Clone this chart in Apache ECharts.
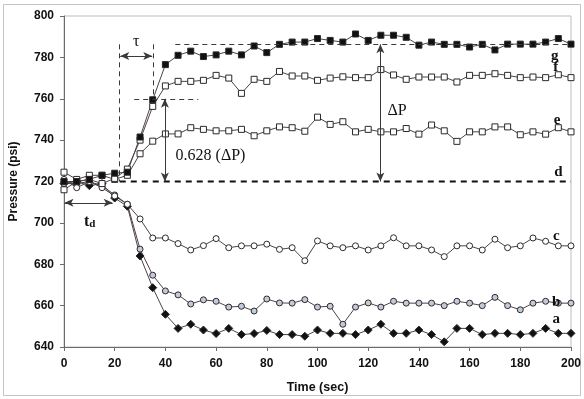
<!DOCTYPE html>
<html><head><meta charset="utf-8">
<script src="https://cdn.jsdelivr.net/npm/echarts@6/dist/echarts.min.js"></script>
<style>html,body{margin:0;padding:0;background:#fff}#c{width:584px;height:399px}</style>
</head><body><div id="c"></div>
<script>
// ---- data ----
const times = [0,5,10,15,20,25,30,35,40,45,50,55,60,65,70,75,80,85,90,95,100,105,110,115,120,125,130,135,140,145,150,155,160,165,170,175,180,185,190,195,200];
const seriesG = [720,720,721,723,724,724.5,741.5,759.5,776.5,781,783,780.4,781.2,783,781.2,785.5,782.3,786.3,787.4,787.4,789.1,788.2,787.4,791.3,788.2,790.7,790.7,789.7,785.9,787.4,786.3,786.3,785,786.3,783.6,786.4,786.4,786.4,787.4,789.1,786.4];
const seriesF = [716,720,721,719,721.5,726,740,756.3,766.2,768.4,768.4,768.9,771.3,770,762.6,769.4,768.4,773.2,771,771,768.9,770,770.6,770.2,770.2,774.1,771.5,769.4,770.5,770.5,770.5,768.1,771.3,771.3,772.1,771.3,770.2,770.5,770.2,771.6,770.2];
const seriesE = [724.5,721,723,723,721,723,733.4,739.5,743,743,746,745.2,744.5,744.5,745.2,742.1,744.5,746.4,746,744.3,751.1,747.6,748.9,744,745.2,744,744,745.6,742.9,747.3,744.5,739.4,744,744,746.4,746.4,742.6,744,742.9,746,744];
const seriesC = [721,717,720,717,713,709,701.9,692.7,692.7,690,686.9,689,692.4,688,688.9,688.9,689.7,687.2,688,681.7,691.3,688.9,688,688.9,686.9,688.9,692.8,688.9,688.9,686.9,683.7,688.9,688.9,686.9,692.1,688,688.9,692.7,691.1,688.9,688.9];
const seriesB = [719,719,720,718,713.5,709,687.3,674.7,667.1,665.2,660.8,662.8,662.1,659.3,659.7,657.4,663.2,661.3,661.2,662.9,659.3,659.7,651,659.3,661.3,659.3,662.1,661.2,661.2,661.2,660,662.1,661.2,660,664,660,658,661.2,662.1,661.2,661.2];
const seriesA = [719,720,718,719,712,708,684,668.7,655.8,649,651,648.2,646.5,649,646,646.5,648,646,646,645.2,648.2,646.6,646.6,646,648.2,651,646.6,646.6,648.2,646,642.5,649,649,646,646.6,646.6,646,646.6,649,646.6,646.6];
const dTimes = [22,200];
const dValues = [720,720];
const xTicks = [0,20,40,60,80,100,120,140,160,180,200];
const yTicks = [640,660,680,700,720,740,760,780,800];

// annotation geometry (data units)
const annoLines = [
  {from:[21.8,786.3], to:[21.8,720], kind:'dash'},
  {from:[35.2,786.3], to:[35.2,760], kind:'dash'},
  {from:[22.2,780.7], to:[34.8,780.7], kind:'arrow'},
  {from:[27.7,760], to:[53,760], kind:'dash'},
  {from:[43.9,786.3], to:[200,786.3], kind:'dash'},
  {from:[39.8,760], to:[39.8,720], kind:'arrow'},
  {from:[124.8,786.3], to:[124.8,720], kind:'arrow'},
  {from:[0.2,709.7], to:[19.2,709.7], kind:'arrow'}
];
const annoTexts = [
  {text:'τ', at:[28.5,787.5], cls:'sym'},
  {text:'0.628 (ΔP)', at:[57.8,732.6], cls:'note'},
  {text:'ΔP', at:[131.4,754.1], cls:'note'},
  {text:'{t|t}{s|d}', at:[10.1,700.6], cls:'td'},
  {text:'g', at:[193.6,780.4], cls:'lab'},
  {text:'f', at:[194,775.4], cls:'lab'},
  {text:'e', at:[194.5,749.6], cls:'lab'},
  {text:'d', at:[195,724.3], cls:'lab'},
  {text:'c', at:[194.2,693.5], cls:'lab'},
  {text:'b', at:[194.2,661.8], cls:'lab'},
  {text:'a', at:[194.2,653.3], cls:'lab'}
];

// ---- chart ----
const chart = echarts.init(document.getElementById('c'), null, {renderer:'canvas'});
const pair = arr => times.map((t,i)=>[t,arr[i]]);
const lineC = '#4e4049';
function mk(name, arr, symbol, size, fill){
  return {name, type:'line', data:pair(arr), symbol, symbolSize:size, showSymbol:true,
    lineStyle:{color:lineC, width:1}, itemStyle:{color:fill, borderColor:'#2a2a2a', borderWidth:1},
    z:3, animation:false, silent:true};
}
const markData = annoLines.map(l => {
  const sym = l.kind==='arrow' ? 'arrow' : 'none';
  return [
    {coord:l.from, symbol:sym, lineStyle:{type: l.kind==='dash'?[5,4]:'solid', color:'#3a3a3a', width:1}},
    {coord:l.to, symbol:sym}
  ];
});
const axisFont = {fontFamily:'Liberation Sans', fontWeight:'bold', fontSize:12, color:'#111'};
chart.setOption({
  animation:false,
  grid:{left:58, right:12, top:16, bottom:45, show:true, borderColor:'#bdbdbd', borderWidth:1},
  xAxis:{type:'value', min:0, max:200, interval:20,
    name:'Time (sec)', nameLocation:'middle', nameGap:34, nameTextStyle:Object.assign({},axisFont,{fontSize:12.5}),
    axisLine:{show:true, lineStyle:{color:'#6b6b6b'}}, axisTick:{show:true, length:4, lineStyle:{color:'#6b6b6b'}},
    axisLabel:Object.assign({margin:11, formatter:v=>xTicks.includes(v)?String(v):''},axisFont), splitLine:{show:false}},
  yAxis:{type:'value', min:640, max:800, interval:20,
    name:'Pressure (psi)', nameLocation:'middle', nameGap:44, nameRotate:90, nameTextStyle:Object.assign({},axisFont,{fontSize:12}),
    axisLine:{show:true, lineStyle:{color:'#6b6b6b'}}, axisTick:{show:true, length:4, lineStyle:{color:'#6b6b6b'}},
    axisLabel:Object.assign({margin:10, formatter:v=>yTicks.includes(v)?String(v):''},axisFont), splitLine:{show:false}},
  series:[
    {name:'d', type:'line', data:dTimes.map((t,i)=>[t,dValues[i]]), symbol:'none',
     lineStyle:{color:'#111', width:2, type:[6,5]}, z:2, silent:true,
     markLine:{silent:true, symbolSize:[6,9], label:{show:false}, data:markData, animation:false}},
    mk('a', seriesA, 'diamond', 8, '#111'),
    mk('b', seriesB, 'circle', 6, '#c3cbd8'),
    mk('c', seriesC, 'circle', 6, '#ffffff'),
    mk('e', seriesE, 'rect', 6, '#ffffff'),
    mk('f', seriesF, 'rect', 6, '#ffffff'),
    mk('g', seriesG, 'rect', 6, '#111')
  ]
});

const styles = {
  sym:{font:'16px "Liberation Serif"'},
  note:{font:'16px "Liberation Serif"'},
  lab:{font:'bold 15px "Liberation Serif"'},
  td:{font:'bold 16px "Liberation Serif"'}
};
const graphics = [{type:'rect', shape:{x:3.5,y:4.5,width:577,height:391}, style:{fill:'none', stroke:'#c4c4c4', lineWidth:1}, z:0, silent:true}];
annoTexts.forEach(a => {
  const p = chart.convertToPixel({gridIndex:0}, a.at);
  const st = {text:a.text, x:p[0], y:p[1], align:'center', verticalAlign:'middle', fill:'#111', font:styles[a.cls].font};
  if (a.cls==='td') {
    st.rich = {t:{font:'bold 16px "Liberation Serif"', fill:'#111'}, s:{font:'bold 11px "Liberation Serif"', fill:'#111', padding:[6,0,0,0]}};
  }
  graphics.push({type:'text', style:st, z:10, silent:true});
});
chart.setOption({graphic:graphics});
</script>
</body></html>
